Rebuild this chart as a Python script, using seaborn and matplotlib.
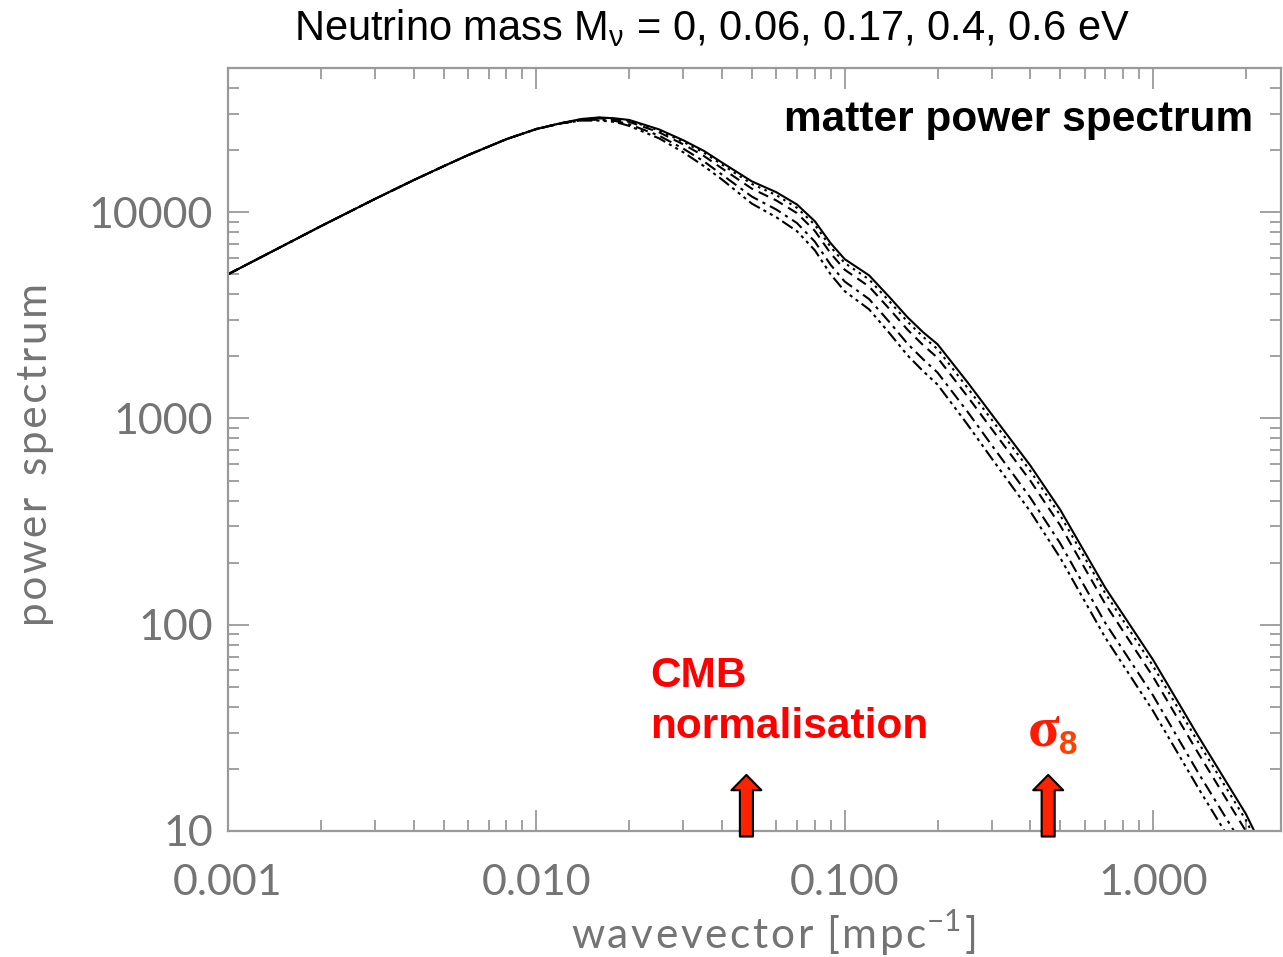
import numpy as np
import pandas as pd
import matplotlib
matplotlib.use("Agg")
import matplotlib.pyplot as plt
import matplotlib.ticker as mticker
import seaborn as sns

# ---------------- data ----------------
k = [0.001, 0.0015, 0.002, 0.003, 0.004, 0.005, 0.006, 0.008, 0.010, 0.012,
     0.014, 0.016, 0.018, 0.020, 0.025, 0.030, 0.035, 0.040, 0.050, 0.060,
     0.070, 0.080, 0.090, 0.100, 0.120, 0.140, 0.160, 0.180, 0.200, 0.250,
     0.300, 0.400, 0.500, 0.700, 1.000, 1.400, 2.000, 2.300]

P_000 = [5000, 6840, 8550, 11600, 14300, 16700, 18900, 22600, 25300, 27000,
         28300, 28800, 28500, 28000, 25200, 22300, 19800, 17400, 14100, 12500,
         10900, 9040, 7080, 5920, 4940, 3860, 3090, 2610, 2290, 1500,
         1045, 591, 361, 151, 67.6, 28.9, 12.1, 7.9]
P_006 = [5000, 6840, 8550, 11600, 14300, 16700, 18900, 22600, 25300, 27000,
         28200, 28700, 28400, 27800, 24900, 21900, 19400, 17000, 13700, 12100,
         10500, 8690, 6790, 5670, 4720, 3680, 2940, 2480, 2170, 1410,
         985, 556, 339, 142, 63.1, 27.0, 11.3, 7.37]
P_017 = [5000, 6840, 8550, 11600, 14300, 16700, 18900, 22600, 25300, 27000,
         28100, 28500, 28200, 27400, 24400, 21300, 18700, 16300, 13000, 11400,
         9900, 8120, 6320, 5260, 4360, 3380, 2690, 2260, 1970, 1280,
         888, 499, 303, 126, 56.0, 23.9, 9.99, 6.53]
P_040 = [5000, 6840, 8550, 11600, 14300, 16700, 18900, 22600, 25300, 26900,
         27900, 28100, 27700, 26700, 23500, 20300, 17600, 15200, 11900, 10300,
         8860, 7200, 5560, 4610, 3790, 2920, 2300, 1930, 1670, 1080,
         741, 413, 248, 102, 45.4, 19.2, 8.06, 5.26]
P_060 = [5000, 6840, 8550, 11600, 14300, 16700, 18900, 22600, 25300, 26900,
         27800, 27800, 27400, 26200, 22800, 19500, 16700, 14400, 11000, 9450,
         8090, 6540, 5000, 4140, 3380, 2580, 2020, 1690, 1460, 936,
         639, 354, 211, 86.6, 38.2, 16.2, 6.77, 4.42]

masses = ["0", "0.06", "0.17", "0.4", "0.6"]
series = [P_000, P_006, P_017, P_040, P_060]

x_ticks = [0.001, 0.01, 0.1, 1.0]
x_ticklabels = ["0.001", "0.010", "0.100", "1.000"]
y_ticks = [10, 100, 1000, 10000]
y_ticklabels = ["10", "100", "1000", "10000"]

arrow_k = [0.048, 0.457]

df = pd.concat(
    [pd.DataFrame({"k": k, "P": p, "mass": m}) for m, p in zip(masses, series)],
    ignore_index=True,
)

# ---------------- style ----------------
sns.set_style("ticks")
plt.rcParams["font.family"] = ["Liberation Sans", "DejaVu Sans"]

W, H = 1283, 957
fig = plt.figure(figsize=(W / 100, H / 100), dpi=100)
ax = fig.add_axes([228 / W, 1 - 831 / H, (1281 - 228) / W, (831 - 68) / H])

dashes = ["", (1.2, 2.2), (5, 3), (6, 2.5, 1.5, 2.5), (6, 2, 1.5, 2, 1.5, 2, 1.5, 2)]
sns.lineplot(data=df, x="k", y="P", style="mass", style_order=masses,
             dashes=dashes, color="black", linewidth=1.5, legend=False,
             estimator=None, sort=True, ax=ax)

ax.set_xscale("log")
ax.set_yscale("log")
ax.set_xlim(0.001, 2.6)
ax.set_ylim(10, 5e4)

axis_gray = "#9a9a9a"
label_gray = "#747474"
thin_font = ["Lato", "DejaVu Sans"]
for s in ax.spines.values():
    s.set_color(axis_gray)
    s.set_linewidth(1.6)
    s.set_visible(True)

ax.xaxis.set_major_locator(mticker.FixedLocator(x_ticks))
ax.yaxis.set_major_locator(mticker.FixedLocator(y_ticks))
ax.xaxis.set_minor_locator(mticker.LogLocator(base=10, subs=np.arange(2, 10)))
ax.yaxis.set_minor_locator(mticker.LogLocator(base=10, subs=np.arange(2, 10)))
ax.xaxis.set_minor_formatter(mticker.NullFormatter())
ax.yaxis.set_minor_formatter(mticker.NullFormatter())
ax.set_xticklabels(x_ticklabels)
ax.set_yticklabels(y_ticklabels)

ax.tick_params(which="both", direction="in", top=True, right=True,
               color=axis_gray, width=1.3)
ax.tick_params(which="major", length=15)
ax.tick_params(which="minor", length=8)
ax.tick_params(axis="x", which="major", pad=24, labelsize=31, labelcolor=label_gray)
ax.tick_params(axis="y", which="major", pad=11, labelsize=31, labelcolor=label_gray)
for lab in ax.get_xticklabels() + ax.get_yticklabels():
    lab.set_fontfamily(thin_font)
    lab.set_fontweight("normal")

hs = "\u200a"
xlab = hs.join("wavevector") + hs + " [" + hs + hs.join("mpc") + r"$^{\mathregular{-1}}$" + hs + "]"
ylab = hs.join("power") + "  " + hs.join("spectrum")
ax.set_xlabel(xlab, fontsize=30.5, color=label_gray, fontfamily=thin_font,
              fontweight="normal")
ax.set_ylabel(ylab, fontsize=30.5, color=label_gray, fontfamily=thin_font,
              fontweight="normal")
ax.xaxis.label.set_verticalalignment("center")
ax.yaxis.label.set_verticalalignment("center")
ax.xaxis.set_label_coords((773 - 228) / (1281 - 228), -(933 - 831) / (831 - 68))
ax.yaxis.set_label_coords(-(228 - 35) / (1281 - 228), (831 - 455) / (831 - 68))

# ---------------- annotations ----------------
fig.text(712 / W, 1 - 28 / H,
         r"Neutrino mass M$_\mathregular{ν}$ = 0, 0.06, 0.17, 0.4, 0.6 eV",
         ha="center", va="center", fontsize=30, color="black")
fig.text(1253 / W, 1 - 120 / H, "matter power spectrum", ha="right",
         va="center", fontsize=30.5, fontweight="bold", color="black")
fig.text(650 / W, 1 - 676 / H, "CMB", ha="left", va="center",
         fontsize=30.5, fontweight="bold", color="#ff0000")
fig.text(650 / W, 1 - 727 / H, "normalisation", ha="left", va="center",
         fontsize=30.5, fontweight="bold", color="#ff0000")
fig.text(1028 / W, 1 - 732 / H, "σ", ha="left", va="center",
         fontsize=42, fontweight="bold", color="#ff1a00",
         fontfamily=["Liberation Serif", "DejaVu Serif"])
fig.text(1059 / W, 1 - 746 / H, "8", ha="left", va="center",
         fontsize=24, fontweight="bold", color="#ff4000")

for ak in arrow_k:
    ax.annotate("", xy=(ak, 18.7), xytext=(ak, 9.4),
                arrowprops=dict(arrowstyle="simple,head_length=0.55,head_width=1.08,tail_width=0.47",
                                fc="#ff2200", ec="black", lw=1.5,
                                shrinkA=0, shrinkB=0, mutation_scale=20),
                annotation_clip=False)

fig.savefig("out.png", dpi=100)
